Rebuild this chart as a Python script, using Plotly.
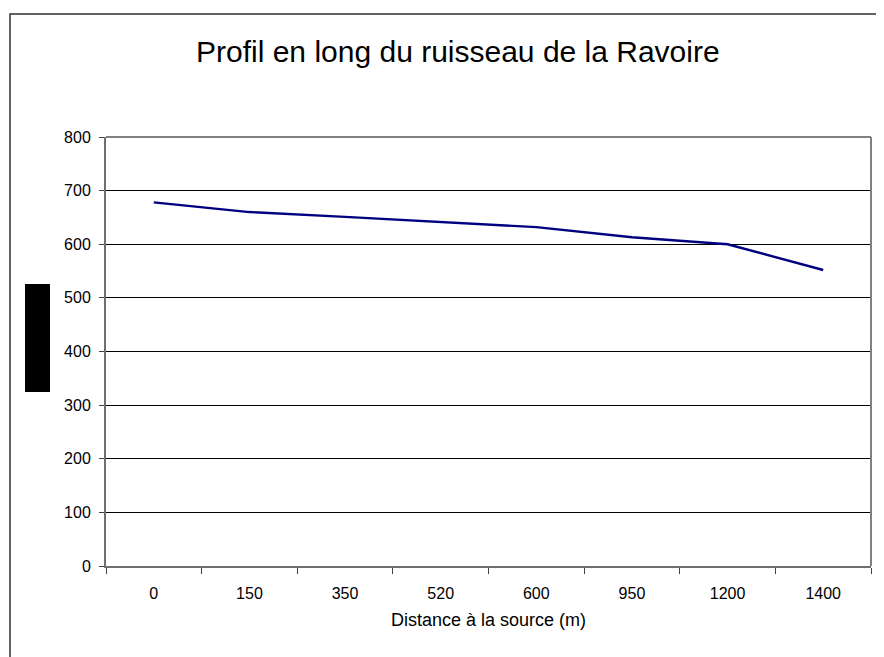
import plotly.graph_objects as go

categories = ["0", "150", "350", "520", "600", "950", "1200", "1400"]
altitude = [678, 660, 651, 642, 632, 613, 600, 552]
y_ticks = [0, 100, 200, 300, 400, 500, 600, 700, 800]

# page body has an 8px margin: work in page pixels, convert to figure pixels
OFF = 8
W, H = 884 - OFF, 657 - OFF
L = 106 - OFF
T = 137 - OFF
R = W - (871 - OFF)
B = H - (566 - OFF)

font = "Liberation Sans, Arial, sans-serif"

fig = go.Figure()
fig.add_trace(go.Scatter(
    x=categories, y=altitude, mode="lines",
    line=dict(color="#000080", width=2.4),
    showlegend=False, hoverinfo="skip",
))

fig.update_layout(
    width=W, height=H,
    margin=dict(l=L, r=R, t=T, b=B),
    paper_bgcolor="white", plot_bgcolor="white",
    font=dict(family=font, color="black", size=16),
    xaxis=dict(
        type="category", tickson="boundaries", range=[-0.5, len(categories) - 0.5],
        ticks="outside", ticklen=6, tickcolor="#404040", tickwidth=1,
        showline=True, linecolor="#707070", linewidth=2,
        showgrid=False, zeroline=False,
        tickfont=dict(size=16, family=font), ticklabelstandoff=12,
        title=dict(text="Distance à la source (m)", font=dict(size=18, family=font), standoff=12),
        fixedrange=True,
    ),
    yaxis=dict(
        range=[0, 800], tickvals=y_ticks, ticks="outside", ticklen=5,
        tickcolor="#404040",
        showline=True, linecolor="#707070", linewidth=2,
        showgrid=True, gridcolor="black", gridwidth=1, zeroline=False,
        tickfont=dict(size=16, family=font), ticklabelstandoff=5,
        fixedrange=True,
    ),
)


def px_x(px):
    return (px - OFF - L) / (W - L - R)


def px_y(py):
    return (H - B - (py - OFF)) / (H - T - B)


# plot area border (top and right, grey)
fig.add_shape(type="line", xref="paper", yref="paper", x0=0, x1=1, y0=1, y1=1,
              line=dict(color="#808080", width=2))
fig.add_shape(type="line", xref="paper", yref="paper", x0=1, x1=1, y0=0, y1=1,
              line=dict(color="#808080", width=2))

# outer chart frame (left and top edges visible)
fig.add_shape(type="rect", xref="paper", yref="paper",
              x0=px_x(10), x1=px_x(900), y0=px_y(700), y1=px_y(14),
              line=dict(color="#303030", width=1.5), fillcolor="rgba(0,0,0,0)", layer="below")

# black block on the left (obscured axis title)
fig.add_shape(type="rect", xref="paper", yref="paper",
              x0=px_x(25), x1=px_x(50), y0=px_y(392), y1=px_y(284),
              line=dict(color="black", width=0), fillcolor="black")

fig.add_annotation(text="Profil en long du ruisseau de la Ravoire",
                   xref="paper", yref="paper", x=px_x(458), y=px_y(52),
                   showarrow=False, font=dict(size=30, family=font, color="black"),
                   xanchor="center", yanchor="middle")

fig.write_html("out.html")
